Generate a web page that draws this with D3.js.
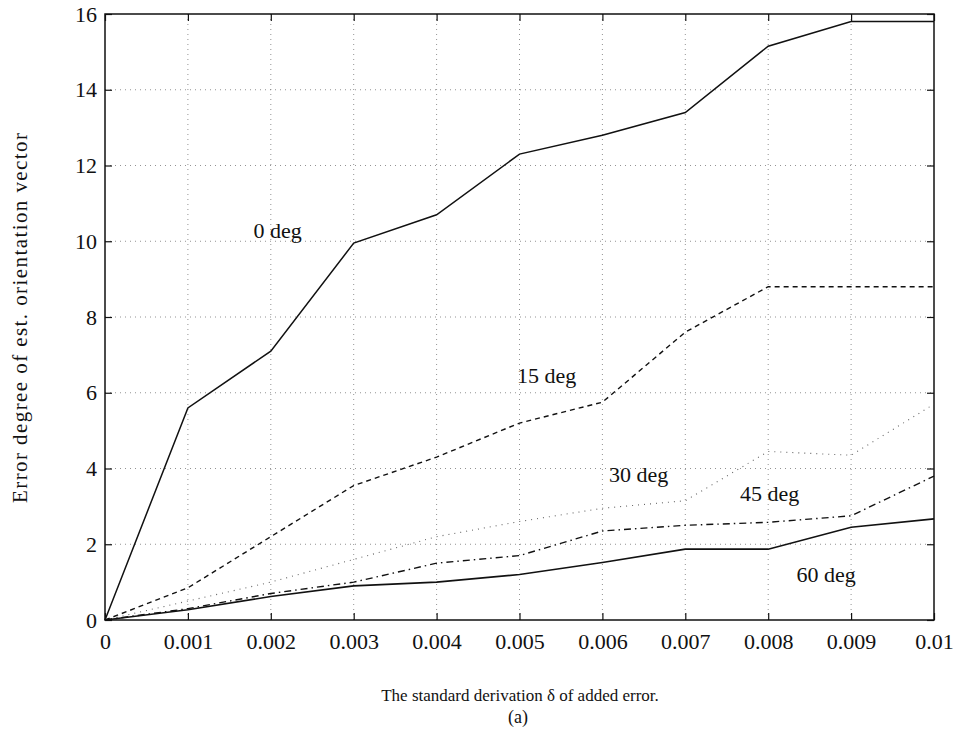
<!DOCTYPE html>
<html>
<head>
<meta charset="utf-8">
<script src="https://cdn.jsdelivr.net/npm/d3@7"></script>
<style>
  body { margin: 0; background: #fff; }
  svg text { font-family: "Liberation Serif", "DejaVu Serif", serif; fill: #111; }
</style>
</head>
<body>
<svg id="chart" width="958" height="739" font-family="Liberation Serif"></svg>
<script>
// x values (standard derivation)
const sigma = [0, 0.001, 0.002, 0.003, 0.004, 0.005, 0.006, 0.007, 0.008, 0.009, 0.01];
// error degree per angle
const deg0  = [0, 5.6, 7.1, 9.95, 10.7, 12.3, 12.8, 13.4, 15.15, 15.8, 15.8];
const deg15 = [0, 0.85, 2.2, 3.55, 4.3, 5.2, 5.75, 7.6, 8.8, 8.8, 8.8];
const deg30 = [0, 0.5, 1.0, 1.6, 2.2, 2.6, 2.95, 3.15, 4.45, 4.35, 5.7];
const deg45 = [0, 0.3, 0.7, 1.0, 1.5, 1.7, 2.35, 2.5, 2.58, 2.75, 3.8];
const deg60 = [0, 0.27, 0.62, 0.9, 1.0, 1.2, 1.52, 1.87, 1.87, 2.45, 2.67];
const xTicks = [0, 0.001, 0.002, 0.003, 0.004, 0.005, 0.006, 0.007, 0.008, 0.009, 0.01];
const yTicks = [0, 2, 4, 6, 8, 10, 12, 14, 16];
const labels = ["0 deg", "15 deg", "30 deg", "45 deg", "60 deg"];
// where each curve label sits (data coords)
const labelPos = [[0.00179, 10.09], [0.00497, 6.26], [0.00608, 3.64], [0.00766, 3.14], [0.00834, 1.0]];

const svg = d3.select("#chart");
const mLeft = 105, mRight = 934, mTop = 14, mBottom = 620;

const x = d3.scaleLinear().domain([0, 0.01]).range([mLeft, mRight]);
const y = d3.scaleLinear().domain([0, 16]).range([mBottom, mTop]);

// grid
const grid = svg.append("g");
grid.selectAll(".gx").data(xTicks.slice(1, -1)).enter().append("line")
  .attr("x1", d => x(d)).attr("x2", d => x(d)).attr("y1", mTop).attr("y2", mBottom)
  .attr("stroke", "#777").attr("stroke-width", 0.8).attr("stroke-dasharray", "1,4");
grid.selectAll(".gy").data(yTicks.slice(1, -1)).enter().append("line")
  .attr("x1", mLeft).attr("x2", mRight).attr("y1", d => y(d)).attr("y2", d => y(d))
  .attr("stroke", "#777").attr("stroke-width", 0.8).attr("stroke-dasharray", "1,4");

// axes
const fmt = d => d === 0 ? "0" : d3.format("")(+d.toFixed(3));
const tidy = g => { g.select(".domain").remove(); g.attr("font-family", null).attr("font-size", null); };
svg.append("g").attr("transform", `translate(0,${mBottom})`)
  .call(d3.axisBottom(x).tickValues(xTicks).tickSize(-7).tickPadding(13).tickFormat(fmt))
  .call(tidy);
svg.append("g").attr("transform", `translate(0,${mTop})`)
  .call(d3.axisTop(x).tickValues(xTicks).tickSize(-7).tickFormat(""))
  .call(tidy);
svg.append("g").attr("transform", `translate(${mLeft},0)`)
  .call(d3.axisLeft(y).tickValues(yTicks).tickSize(-7).tickPadding(8))
  .call(tidy);
svg.append("g").attr("transform", `translate(${mRight},0)`)
  .call(d3.axisRight(y).tickValues(yTicks).tickSize(-7).tickFormat(""))
  .call(tidy);
svg.selectAll(".tick line").attr("stroke", "#111").attr("stroke-width", 1.2);
svg.selectAll(".tick text").style("font-size", "22px").style("fill", "#111");

svg.append("rect").attr("x", mLeft).attr("y", mTop).attr("width", mRight - mLeft).attr("height", mBottom - mTop)
  .attr("fill", "none").attr("stroke", "#111").attr("stroke-width", 1.5);

// curves
const line = d3.line().x((d, i) => x(sigma[i])).y(d => y(d));
const series = [
  { v: deg0, dash: null, color: "#111", w: 1.5 },
  { v: deg15, dash: "5,4", color: "#111", w: 1.4 },
  { v: deg30, dash: "1,5", color: "#666", w: 1.1 },
  { v: deg45, dash: "7,4,1.5,4", color: "#111", w: 1.4 },
  { v: deg60, dash: null, color: "#111", w: 1.6 }
];
svg.selectAll(".curve").data(series).enter().append("path")
  .attr("class", "curve")
  .attr("d", d => line(d.v))
  .attr("fill", "none")
  .attr("stroke", d => d.color)
  .attr("stroke-width", d => d.w)
  .attr("stroke-dasharray", d => d.dash);

svg.selectAll(".lbl").data(labels).enter().append("text")
  .attr("x", (d, i) => x(labelPos[i][0]))
  .attr("y", (d, i) => y(labelPos[i][1]))
  .style("font-size", "22px")
  .text(d => d);

// axis titles
svg.append("text").attr("x", 520).attr("y", 701).attr("text-anchor", "middle")
  .style("font-size", "17px").text("The standard derivation \u03b4 of added error.");
svg.append("text").attr("x", 518).attr("y", 723).attr("text-anchor", "middle")
  .style("font-size", "18px").text("(a)");
svg.append("text").attr("transform", "translate(27,318) rotate(-90)").attr("text-anchor", "middle")
  .style("font-size", "21px")
  .attr("textLength", 370).attr("lengthAdjust", "spacing")
  .text("Error degree of est. orientation vector");
</script>
</body>
</html>
